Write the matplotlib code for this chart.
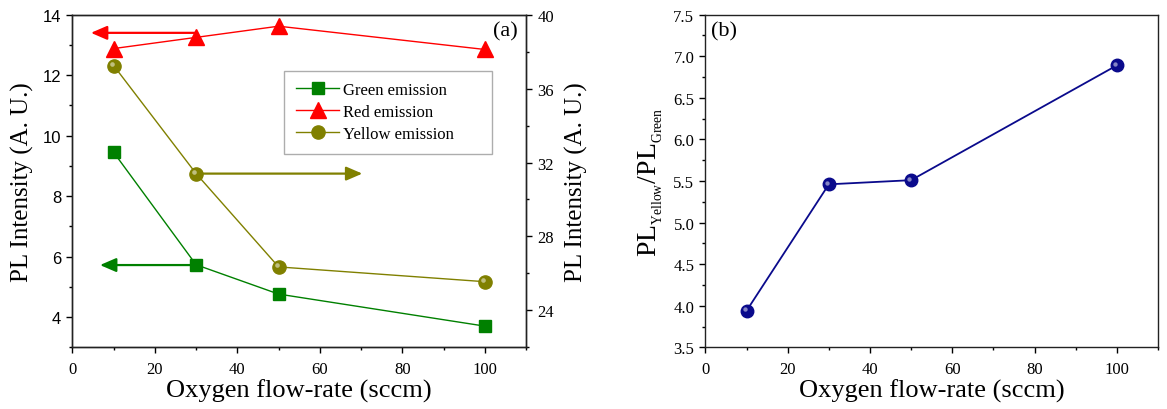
import matplotlib
matplotlib.use('Agg')
import matplotlib.pyplot as plt
import matplotlib.transforms as mtransforms
from matplotlib.ticker import MultipleLocator, FormatStrFormatter
from matplotlib.lines import Line2D

# Data
flow = [10, 30, 50, 100]
green = [9.45, 5.73, 4.76, 3.70]
red = [12.88, 13.25, 13.62, 12.85]
yellow = [37.25, 31.40, 26.35, 25.55]
ratio = [3.94, 5.46, 5.51, 6.89]

GREEN = '#008000'
RED = '#ff0000'
OLIVE = '#808000'
NAVY = '#0a0a8c'
SERIF = 'Liberation Serif'
SANS = 'Liberation Sans'

plt.rcParams['font.family'] = SERIF
plt.rcParams['mathtext.fontset'] = 'custom'
plt.rcParams['mathtext.rm'] = SERIF
plt.rcParams['mathtext.it'] = SERIF + ':italic'

fig = plt.figure(figsize=(11.67, 4.10), dpi=100)
ax = fig.add_axes([0.0620, 0.1505, 0.3888, 0.8112])
ax2 = ax.twinx()
bx = fig.add_axes([0.6045, 0.1505, 0.3877, 0.8112])


def sphere(axis, x, y, color, ms):
    # ball marker with a small highlight
    axis.plot(x, y, 'o', color=color, ms=ms, mec=color, zorder=4)
    off = mtransforms.ScaledTranslation(-1.2 / 72, 1.2 / 72, fig.dpi_scale_trans)
    axis.plot(x, y, 'o', color='white', alpha=0.5, ms=ms * 0.35, mec='none',
              transform=axis.transData + off, zorder=5)


# ---- panel (a)
ax.plot(flow, green, '-', color=GREEN, lw=1.0, marker='s', ms=8.5, zorder=3)
ax.plot(flow, red, '-', color=RED, lw=1.0, marker='^', ms=11, zorder=3)
ax2.plot(flow, yellow, '-', color=OLIVE, lw=1.0, zorder=3)
sphere(ax2, flow, yellow, OLIVE, 9.5)

ax.set_xlim(0, 110)
ax.set_ylim(3, 14)
ax2.set_ylim(22, 40)
ax.xaxis.set_major_locator(MultipleLocator(20))
ax.xaxis.set_minor_locator(MultipleLocator(10))
ax.yaxis.set_major_locator(MultipleLocator(2))
ax.yaxis.set_minor_locator(MultipleLocator(1))
ax2.yaxis.set_major_locator(MultipleLocator(4))
ax2.yaxis.set_minor_locator(MultipleLocator(2))

for a in (ax, ax2, bx):
    a.tick_params(which='major', direction='out', length=4, width=1.0, pad=4)
    a.tick_params(which='minor', direction='out', length=2.5, width=1.0)
    a.tick_params(axis='x', pad=6)
    for s in a.spines.values():
        s.set_linewidth(1.0)
        s.set_color('#222222')

ax.tick_params(axis='x', labelsize=12)
ax.tick_params(axis='y', labelsize=12)
for lab in ax.get_yticklabels():
    lab.set_fontfamily(SANS)
ax2.tick_params(axis='y', labelsize=12)

ax.set_xlabel('Oxygen flow-rate (sccm)', fontsize=19, labelpad=1)
ax.set_ylabel('PL Intensity (A. U.)', fontsize=18, labelpad=6)
ax2.set_ylabel('PL Intensity (A. U.)', fontsize=18, labelpad=8)

arrow = dict(arrowstyle='-|>,head_length=0.65,head_width=0.28', lw=1.6,
             mutation_scale=15, shrinkA=0, shrinkB=0)
ax.annotate('', xy=(4.5, 13.4), xytext=(30, 13.4),
            arrowprops=dict(arrow, color=RED))
ax.annotate('', xy=(6.7, 5.72), xytext=(30, 5.72),
            arrowprops=dict(arrow, color=GREEN))
ax2.annotate('', xy=(70.3, 31.4), xytext=(30, 31.4),
             arrowprops=dict(arrow, color=OLIVE))

ax.text(0.954, 0.95, '(a)', transform=ax.transAxes, fontsize=16,
        ha='center', va='center')

handles = [
    Line2D([], [], color=GREEN, lw=1.0, marker='s', ms=8.5),
    Line2D([], [], color=RED, lw=1.0, marker='^', ms=11),
    Line2D([], [], color=OLIVE, lw=1.0, marker='o', ms=9.5),
]
labels = ['Green emission', 'Red emission', 'Yellow emission']
leg = ax.legend(handles, labels, loc='upper left',
                bbox_to_anchor=(0.467, 0.832, 0.458, 0.0), mode='expand',
                borderaxespad=0, fontsize=12, frameon=True, fancybox=False,
                edgecolor='#999999', handlelength=2.6, handletextpad=0.25,
                labelspacing=0.35, borderpad=0.7)
leg.get_frame().set_linewidth(1.0)
ax2.set_zorder(ax.get_zorder() - 1)
ax.patch.set_visible(False)

# ---- panel (b)
bx.plot(flow, ratio, '-', color=NAVY, lw=1.3, zorder=3)
sphere(bx, flow, ratio, NAVY, 9)
bx.set_xlim(0, 110)
bx.set_ylim(3.5, 7.5)
bx.xaxis.set_major_locator(MultipleLocator(20))
bx.xaxis.set_minor_locator(MultipleLocator(10))
bx.yaxis.set_major_locator(MultipleLocator(0.5))
bx.yaxis.set_minor_locator(MultipleLocator(0.25))
bx.yaxis.set_major_formatter(FormatStrFormatter('%.1f'))
bx.tick_params(labelsize=12)
bx.set_xlabel('Oxygen flow-rate (sccm)', fontsize=19, labelpad=1)
# small subscripts, as in the original figure
bx.set_ylabel(r'$\mathrm{PL_{{}_{Yellow}}/PL_{{}_{Green}}}$', fontsize=20, labelpad=6)
bx.text(0.041, 0.95, '(b)', transform=bx.transAxes, fontsize=16,
        ha='center', va='center')

fig.savefig('out.png', dpi=100)
